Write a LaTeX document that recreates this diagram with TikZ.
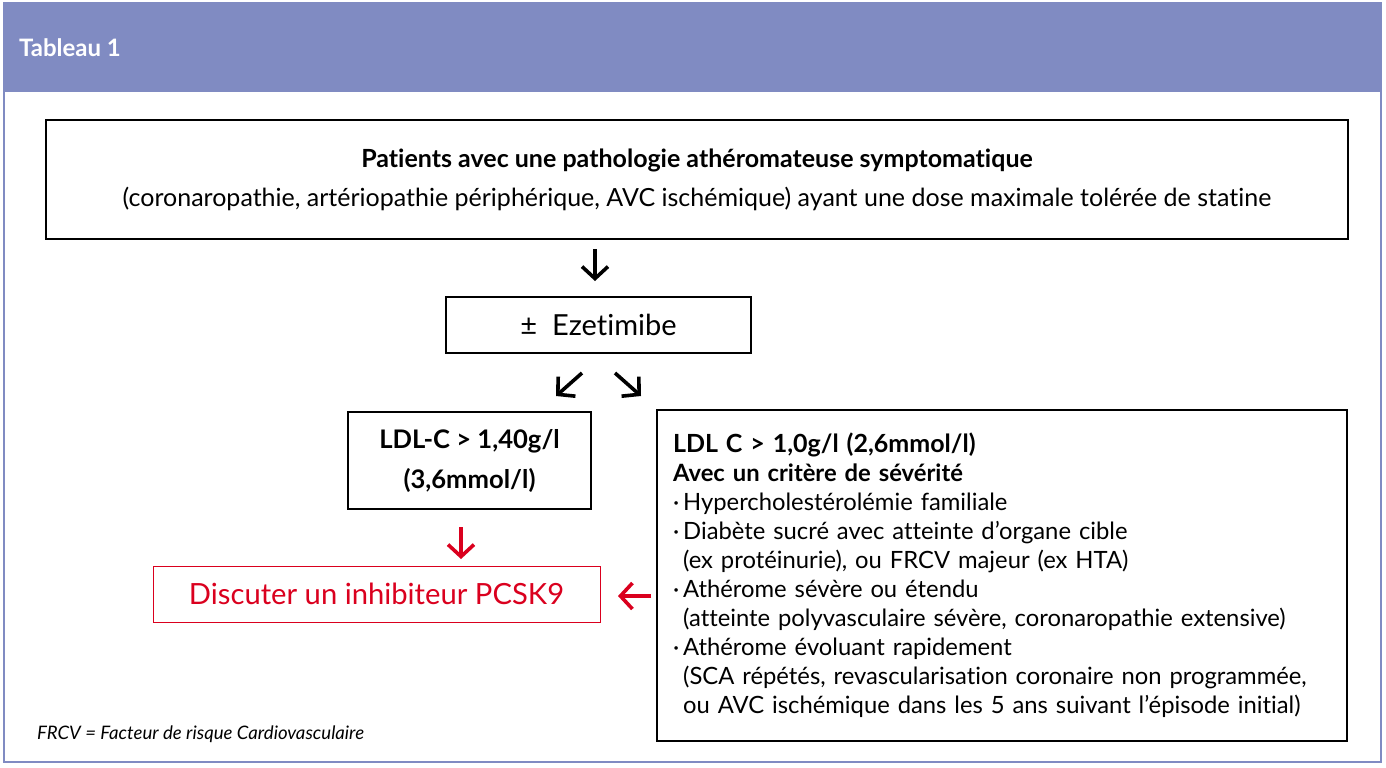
\documentclass[tikz,border=0pt]{standalone}
\usepackage{fontspec}
\setmainfont{Lato}[Ligatures=CommonOff]
\usepackage{xcolor}
\usetikzlibrary{arrows.meta}
\definecolor{bandblue}{RGB}{128,139,194}
\definecolor{alertred}{RGB}{218,0,30}

\begin{document}
\begin{tikzpicture}[x=0.5pt, y=-0.5pt,
  box/.style={draw, line width=0.7pt, inner sep=0pt, align=center},
  flow/.style={-{Straight Barb[length=6pt,width=13pt]}, line width=1.8pt}]
\useasboundingbox (0,0) rectangle (1386,767);
\draw[bandblue, line width=0.6pt] (4,3) rectangle (1381,762);
\fill[bandblue] (4,3) rectangle (1381,92);
\node[anchor=west, text=white, font=\bfseries\fontsize{12}{14}\selectfont] (title) at (12,48) {Tableau 1};
\node[box, minimum width=651pt, minimum height=59.5pt, font=\fontsize{12.5}{19.5}\selectfont] (patients) at (697,179.5) {\textbf{Patients avec une pathologie athéromateuse symptomatique}\\(coronaropathie, artériopathie périphérique, AVC ischémique) ayant une dose maximale tolérée de statine};
\node[box, minimum width=152.5pt, minimum height=28pt, font=\fontsize{14.5}{16}\selectfont] (ezet) at (598.5,325) {±\ \ Ezetimibe};
\node[box, minimum width=121.5pt, minimum height=48.5pt, font=\bfseries\fontsize{12.8}{20}\selectfont] (ldlhigh) at (469.5,460.5) {LDL-C > 1,40g/l\\(3,6mmol/l)};
\node[box, align=left, text width=329pt, minimum height=165.5pt, inner xsep=8pt, font=\fontsize{11.9}{14.5}\selectfont] (severe) at (1002,575.5) {\textbf{\fontsize{12.5}{14.5}\selectfont LDL C > 1,0g/l (2,6mmol/l)}\\
\textbf{Avec un critère de sévérité}\\
·\,Hypercholestérolémie familiale\\
·\,Diabète sucré avec atteinte d’organe cible\\
\phantom{·\,}(ex protéinurie), ou FRCV majeur (ex HTA)\\
·\,Athérome sévère ou étendu\\
\phantom{·\,}(atteinte polyvasculaire sévère, coronaropathie extensive)\\
·\,Athérome évoluant rapidement\\
\phantom{·\,}(SCA répétés, revascularisation coronaire non programmée,\\
\phantom{·\,}ou AVC ischémique dans les 5 ans suivant l’épisode initial)};
\node[box, draw=alertred, text=alertred, line width=0.5pt, minimum width=223.5pt, minimum height=28pt, font=\fontsize{14.6}{16}\selectfont] (pcsk) at (376.5,594) {Discuter un inhibiteur PCSK9};
\node[anchor=west, font=\itshape\fontsize{9.3}{11}\selectfont] (note) at (30,734) {FRCV = Facteur de risque Cardiovasculaire};
\coordinate (down1) at (595,249);
\coordinate (down1e) at (595,281);
\coordinate (left1) at (582,373);
\coordinate (left1e) at (556,396);
\coordinate (right1) at (615,373);
\coordinate (right1e) at (641,396);
\coordinate (red1) at (461,527);
\coordinate (red1e) at (461,559);
\coordinate (red2) at (651,596);
\coordinate (red2e) at (618,596);
\draw[flow] (down1) -- (down1e);
\draw[flow] (left1) -- (left1e);
\draw[flow] (right1) -- (right1e);
\draw[flow, alertred] (red1) -- (red1e);
\draw[flow, alertred] (red2) -- (red2e);
\end{tikzpicture}
\end{document}
